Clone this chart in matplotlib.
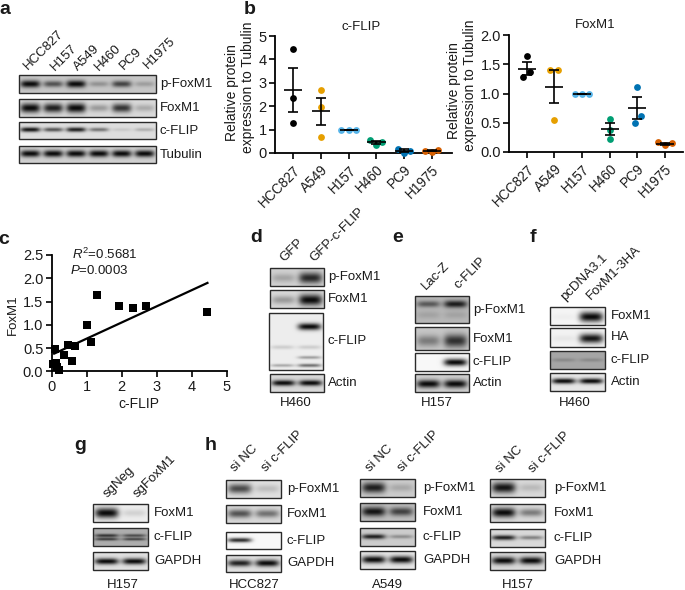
import numpy as np
import matplotlib
matplotlib.use("Agg")
import matplotlib.pyplot as plt
from matplotlib.patches import Rectangle

plt.rcParams["font.family"] = ["Liberation Sans", "DejaVu Sans"]
plt.rcParams["font.size"] = 9.5
plt.rcParams["mathtext.fontset"] = "custom"
plt.rcParams["mathtext.rm"] = "Liberation Sans"
plt.rcParams["mathtext.it"] = "Liberation Sans:italic"
plt.rcParams["axes.linewidth"] = 1.3

W, H = 685, 590
TXT = "#1a1a1a"

# --- panel b data ---
cells_flip = ["HCC827", "A549", "H157", "H460", "PC9", "H1975"]
dot_colors = ["#000000", "#E69F00", "#56B4E9", "#009E73", "#0072B2", "#D55E00"]
flip_vals = [[4.45, 2.33, 1.30], [2.70, 1.95, 0.68], [1.0, 1.0, 1.0],
             [0.57, 0.35, 0.47], [0.18, 0.0, 0.10], [0.10, 0.05, 0.12]]
flip_mean = [2.70, 1.78, 1.0, 0.46, 0.10, 0.09]
flip_sem = [0.93, 0.59, 0.0, 0.06, 0.05, 0.02]
flip_off = [[0, 0, 0], [0, 0, 0], [-0.27, 0, 0.27],
            [-0.22, 0, 0.2], [-0.22, 0, 0.22], [-0.24, 0, 0.22]]

fox_vals = [[1.64, 1.37, 1.29], [1.40, 1.40, 0.55], [1.0, 1.0, 1.0],
            [0.57, 0.38, 0.22], [1.12, 0.62, 0.50], [0.17, 0.12, 0.15]]
fox_mean = [1.43, 1.12, 1.0, 0.39, 0.75, 0.14]
fox_sem = [0.11, 0.28, 0.0, 0.10, 0.19, 0.02]
fox_off = [[0, 0.12, -0.12], [-0.14, 0.14, 0], [-0.27, 0, 0.27],
           [0, 0, 0], [0, 0.14, -0.1], [-0.24, 0, 0.24]]

# --- panel c data ---
corr_flip = [4.45, 2.70, 2.33, 1.92, 1.30, 1.00, 1.12, 0.67, 0.47, 0.58, 0.35,
             0.10, 0.05, 0.13, 0.15, 0.20]
corr_fox = [1.28, 1.40, 1.37, 1.40, 1.64, 1.00, 0.62, 0.55, 0.57, 0.22, 0.35,
            0.49, 0.15, 0.17, 0.10, 0.02]
fit_x = [0.07, 4.45]
fit_y = [0.38, 1.90]


def px_axes(fig, x0, y0, x1, y1):
    # axes from pixel box (y measured from the top)
    return fig.add_axes([x0 / W, 1 - y1 / H, (x1 - x0) / W, (y1 - y0) / H])


def blot(ax, x0, y0, x1, y1, bg, layers):
    """One membrane strip. layers = [(y centre, thickness, [lane darkness])]"""
    nx, ny = int(x1 - x0) * 3, int(y1 - y0) * 3
    xs = (np.arange(nx) + 0.5) / nx
    ys = (np.arange(ny) + 0.5) / ny
    dark = np.zeros((ny, nx))
    for yc, th, vals in layers:
        m = len(vals)
        for i, d in enumerate(vals):
            prof_x = np.exp(-(((xs - (i + 0.5) / m) / (0.43 / m)) ** 4))
            t = th * (0.65 + 0.35 * d)
            prof_y = np.exp(-(((ys - yc) / t) ** 2))
            dark += d * np.outer(prof_y, prof_x)
    img = bg - (bg - 0.04) * np.clip(dark, 0, 1)
    ax.imshow(img, extent=(x0, x1, y1, y0), cmap="gray", vmin=0, vmax=1,
              aspect="auto", interpolation="bilinear", zorder=1)
    ax.add_patch(Rectangle((x0, y0), x1 - x0, y1 - y0, fill=False,
                           edgecolor="#2a2a2a", linewidth=1.0, zorder=2))


def strip_set(ax, x0, x1, lab_x, rows):
    for label, y0, y1, bg, layers in rows:
        blot(ax, x0, y0, x1, y1, bg, layers)
        ax.text(lab_x, (y0 + y1) / 2, label, ha="left", va="center", color=TXT, fontsize=9.5)


def lanes(ax, names, starts):
    for name, (x, y) in zip(names, starts):
        ax.text(x, y, name, rotation=45, rotation_mode="anchor", ha="left", va="center",
                color=TXT, fontsize=9.5)


def dots(ax, vals, offs, means, sems, names, ymax, ticks, ticklabels, xlim):
    for i, (v, o) in enumerate(zip(vals, offs)):
        ax.scatter(np.array(o) + i, v, s=24, color=dot_colors[i], zorder=3,
                   clip_on=False, linewidths=0)
    pos = np.arange(len(names))
    ax.hlines(means, pos - 0.33, pos + 0.33, color="black", linewidth=1.2, zorder=4)
    ax.errorbar(pos, means, yerr=sems, fmt="none", ecolor="black", elinewidth=1.2,
                capsize=3.8, capthick=1.2, zorder=4)
    ax.set_xlim(*xlim)
    ax.set_ylim(0, ymax)
    ax.set_xticks(pos)
    ax.set_xticklabels(names, rotation=45, ha="right", rotation_mode="anchor", color=TXT)
    ax.set_yticks(ticks)
    ax.set_yticklabels(ticklabels, color=TXT, fontsize=10.5)
    ax.tick_params(width=1.2, length=4, pad=2)
    ax.tick_params(axis="x", labelsize=9.8, pad=3)
    for s in ["top", "right"]:
        ax.spines[s].set_visible(False)
    ax.patch.set_alpha(0)


fig = plt.figure(figsize=(6.85, 5.90), dpi=100)
bg_ax = fig.add_axes([0, 0, 1, 1])

# ----- panel letters -----
for letter, x, y in [("a", 5, 9), ("b", 250, 9), ("c", 4, 239), ("d", 256, 238),
                     ("e", 398, 238), ("f", 533, 238), ("g", 80, 446), ("h", 211, 445)]:
    bg_ax.text(x, y, letter, fontsize=14, fontweight="bold", ha="center", va="center", color=TXT)

# ----- panel a -----
lanes(bg_ax, ["HCC827", "H157", "A549", "H460", "PC9", "H1975"],
      [(26, 68), (53, 69), (76, 69), (97, 69), (122, 68), (146, 67)])
strip_set(bg_ax, 19, 156, 160, [
    ("p-FoxM1", 75, 93, 0.78, [(0.5, 0.2, [1.0, 0.62, 1.0, 0.28, 0.7, 0.22])]),
    ("FoxM1", 99, 117, 0.85, [(0.5, 0.26, [1.0, 0.9, 1.0, 0.3, 0.8, 0.22])]),
    ("c-FLIP", 122, 139, 0.87, [(0.45, 0.14, [0.95, 0.65, 0.9, 0.5, 0.1, 0.22])]),
    ("Tubulin", 146, 163, 0.82, [(0.45, 0.2, [1.0, 1.0, 1.0, 1.0, 1.0, 1.0])]),
])

# ----- panel d -----
lanes(bg_ax, ["GFP", "GFP-c-FLIP"], [(282, 260), (312, 260)])
strip_set(bg_ax, 270, 324, 328, [
    ("p-FoxM1", 268, 286, 0.82, [(0.55, 0.32, [0.22, 0.85])]),
    ("FoxM1", 290, 308, 0.85, [(0.55, 0.3, [0.3, 1.0])]),
    ("Actin", 374, 392, 0.85, [(0.5, 0.16, [1.0, 1.0])]),
])
blot(bg_ax, 269, 313, 323, 370, 0.93,
     [(0.24, 0.06, [0.0, 1.0]), (0.6, 0.05, [0.14, 0.14]),
      (0.78, 0.035, [0.0, 0.35]), (0.92, 0.035, [0.3, 0.55])])
bg_ax.text(328, 341, "c-FLIP", ha="left", va="center", color=TXT, fontsize=9.5)
bg_ax.text(296, 403, "H460", ha="center", va="center", color=TXT, fontsize=9.5)

# ----- panel e -----
lanes(bg_ax, ["Lac-Z", "c-FLIP"], [(424, 288), (456, 287)])
strip_set(bg_ax, 415, 469, 473, [
    ("p-FoxM1", 296, 323, 0.72, [(0.3, 0.14, [0.55, 0.9]), (0.7, 0.2, [0.12, 0.12])]),
    ("FoxM1", 327, 350, 0.78, [(0.6, 0.3, [0.4, 0.8])]),
    ("c-FLIP", 353, 371, 0.97, [(0.52, 0.2, [0.0, 1.0])]),
    ("Actin", 374, 392, 0.82, [(0.55, 0.22, [1.0, 1.0])]),
])
bg_ax.text(437, 403, "H157", ha="center", va="center", color=TXT, fontsize=9.5)

# ----- panel f -----
lanes(bg_ax, ["pcDNA3.1", "FoxM1-3HA"], [(563, 299), (589, 298)])
strip_set(bg_ax, 550, 605, 611, [
    ("FoxM1", 307, 325, 0.96, [(0.55, 0.28, [0.03, 1.0])]),
    ("HA", 328, 347, 0.95, [(0.55, 0.25, [0.05, 0.95])]),
    ("c-FLIP", 351, 369, 0.65, [(0.5, 0.14, [0.18, 0.18])]),
    ("Actin", 373, 391, 0.9, [(0.45, 0.15, [1.0, 1.0])]),
])
bg_ax.text(575, 403, "H460", ha="center", va="center", color=TXT, fontsize=9.5)

# ----- panel g -----
lanes(bg_ax, ["sgNeg", "sgFoxM1"], [(105, 496), (135, 496)])
strip_set(bg_ax, 93, 148, 154, [
    ("FoxM1", 504, 522, 0.93, [(0.5, 0.28, [1.0, 0.12])]),
    ("c-FLIP", 528, 546, 0.68, [(0.42, 0.1, [0.75, 0.6]), (0.62, 0.09, [0.7, 0.65])]),
    ("GAPDH", 552, 570, 0.88, [(0.52, 0.17, [1.0, 1.0])]),
])
bg_ax.text(123, 585, "H157", ha="center", va="center", color=TXT, fontsize=9.5)

# ----- panel h -----
for name, xa, xb, lab_x, nc, cf, ys, rows_d, bgs, mid in [
    ("HCC827", 226, 281, 287, (233, 470), (264, 470),
     [(480, 498), (505, 523), (532, 549), (555, 572)],
     [[0.7, 0.16], [0.65, 0.5], [0.85, 0.0], [0.9, 1.0]], [0.88, 0.85, 0.97, 0.88], 254),
    ("A549", 360, 415, 423, (368, 470), (400, 470),
     [(479, 497), (503, 521), (528, 546), (551, 569)],
     [[0.9, 0.18], [0.95, 0.7], [0.9, 0.32], [1.0, 1.0]], [0.8, 0.75, 0.8, 0.9], 387),
    ("H157", 490, 545, 554, (498, 471), (531, 471),
     [(479, 497), (504, 522), (529, 547), (552, 570)],
     [[0.95, 0.15], [1.0, 0.45], [0.9, 0.42], [1.0, 1.0]], [0.85, 0.85, 0.85, 0.85], 518),
]:
    lanes(bg_ax, ["si NC", "si c-FLIP"], [nc, cf])
    rows = []
    for lab, (y0, y1), d, bg, th in zip(["p-FoxM1", "FoxM1", "c-FLIP", "GAPDH"], ys, rows_d,
                                        bgs, [0.3, 0.26, 0.14, 0.2]):
        rows.append((lab, y0, y1, bg, [(0.48, th, d)]))
    strip_set(bg_ax, xa, xb, lab_x, rows)
    bg_ax.text(mid, 585, name, ha="center", va="center", color=TXT, fontsize=9.5)

bg_ax.set_xlim(0, W)
bg_ax.set_ylim(H, 0)
bg_ax.axis("off")

# ----- panel b -----
ax1 = px_axes(fig, 275, 36, 451.7, 153)
dots(ax1, flip_vals, flip_off, flip_mean, flip_sem, cells_flip, 5,
     [0, 1, 2, 3, 4, 5], ["0", "1", "2", "3", "4", "5"], (-0.66, 5.72))
ax2 = px_axes(fig, 509, 35.3, 683, 152)
dots(ax2, fox_vals, fox_off, fox_mean, fox_sem, cells_flip, 2.0,
     [0, 0.5, 1.0, 1.5, 2.0], ["0.0", "0.5", "1.0", "1.5", "2.0"], (-0.64, 5.65))
bg_ax.text(361, 27, "c-FLIP", ha="center", va="center", color=TXT, fontsize=9.5)
bg_ax.text(595, 25, "FoxM1", ha="center", va="center", color=TXT, fontsize=9.5)
for x, y, s in [(232, 93, "Relative protein"), (248, 87, "expression to Tubulin"),
                (454, 91, "Relative protein"), (470, 85, "expression to Tubulin")]:
    bg_ax.text(x, y, s, rotation=90, ha="center", va="center", color=TXT, fontsize=10)

# ----- panel c -----
ax3 = px_axes(fig, 51.7, 255, 226.7, 371.3)
ax3.plot(fit_x, fit_y, color="black", linewidth=1.6, zorder=2)
ax3.scatter(corr_flip, corr_fox, marker="s", s=30, color="black", linewidths=0, zorder=3,
            clip_on=False)
ax3.set_xlim(0, 5)
ax3.set_ylim(0, 2.5)
ax3.set_xticks(range(6))
ax3.set_yticks([0, 0.5, 1.0, 1.5, 2.0, 2.5])
ax3.set_yticklabels(["0.0", "0.5", "1.0", "1.5", "2.0", "2.5"])
ax3.tick_params(width=1.2, length=4, pad=2, labelsize=10.5, labelcolor=TXT)
for s in ["top", "right"]:
    ax3.spines[s].set_visible(False)
ax3.patch.set_alpha(0)
bg_ax.text(72, 254, r"$\mathit{R}^{2}$=0.5681", ha="left", va="center", color=TXT, fontsize=9.5)
bg_ax.text(70, 270, r"$\mathit{P}$=0.0003", ha="left", va="center", color=TXT, fontsize=9.5)
bg_ax.text(13, 315, "FoxM1", rotation=90, ha="center", va="center", color=TXT, fontsize=9.5)
bg_ax.text(139, 404, "c-FLIP", ha="center", va="center", color=TXT, fontsize=10)

fig.savefig("out.png", dpi=100)
